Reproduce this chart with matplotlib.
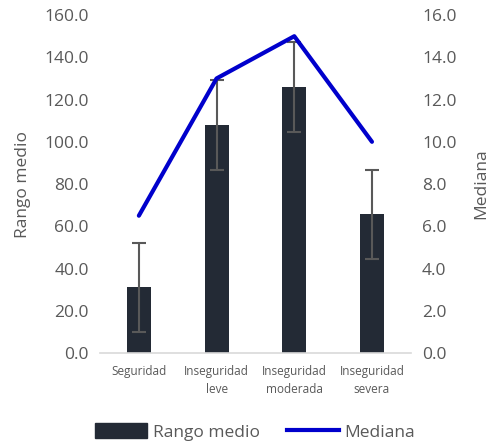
import matplotlib.pyplot as plt
import numpy as np
from matplotlib.lines import Line2D
from matplotlib.patches import Patch

plt.rcParams['font.family'] = ['Open Sans', 'DejaVu Sans']

categorias = ['Seguridad', 'Inseguridad\nleve', 'Inseguridad\nmoderada', 'Inseguridad\nsevera']
rango_medio = [31.1, 107.9, 125.8, 65.6]
error = [21.2, 21.3, 21.3, 21.2]
mediana = [6.5, 13.0, 15.0, 10.0]

gris = '#595959'

fig = plt.figure(figsize=(4.91, 4.44), dpi=100)
ax = fig.add_axes([0.2037, 0.205, 0.633, 0.761])
x = np.arange(len(categorias))

ax.bar(x, rango_medio, width=0.31, color='#232A35', zorder=2)
ax.errorbar(x, rango_medio, yerr=error, fmt='none', ecolor=gris,
            elinewidth=1.5, capsize=5, capthick=1.5, zorder=3)

ax.set_xlim(-0.5, 3.5)
ax.set_ylim(0, 160)
ax.set_yticks(np.arange(0, 161, 20))
ax.set_yticklabels([f'{v:.1f}' for v in np.arange(0, 161, 20)])
ax.set_xticks(x)
ax.set_xticklabels(categorias, fontsize=8.5, color=gris, linespacing=1.45)
ax.tick_params(axis='y', length=0, labelsize=12.5, labelcolor=gris, pad=8)
ax.tick_params(axis='x', length=0, pad=9)
for s in ['top', 'left', 'right']:
    ax.spines[s].set_visible(False)
ax.spines['bottom'].set_color('#D9D9D9')
ax.spines['bottom'].set_linewidth(1.2)
ax.set_ylabel('Rango medio', fontsize=12.5, color=gris, labelpad=10)

ax2 = ax.twinx()
ax2.plot(x, mediana, color='#0000CC', linewidth=3, solid_capstyle='round', zorder=4)
ax2.set_ylim(0, 16)
ax2.set_yticks(np.arange(0, 17, 2))
ax2.set_yticklabels([f'{v:.1f}' for v in np.arange(0, 17, 2)])
ax2.tick_params(axis='y', length=0, labelsize=12.5, labelcolor=gris, pad=8)
for s in ['top', 'left', 'right', 'bottom']:
    ax2.spines[s].set_visible(False)
ax2.set_ylabel('Mediana', fontsize=12.5, color=gris, rotation=90, labelpad=12)

handles = [Patch(color='#232A35'), Line2D([0], [0], color='#0000CC', linewidth=3)]
fig.legend(handles, ['Rango medio', 'Mediana'], loc='center', bbox_to_anchor=(0.52, 0.027),
           ncol=2, frameon=False, fontsize=12.5, handlelength=3.0, handleheight=0.9,
           handletextpad=0.3, columnspacing=1.6, labelcolor=gris)

fig.savefig('out.png', dpi=100)
